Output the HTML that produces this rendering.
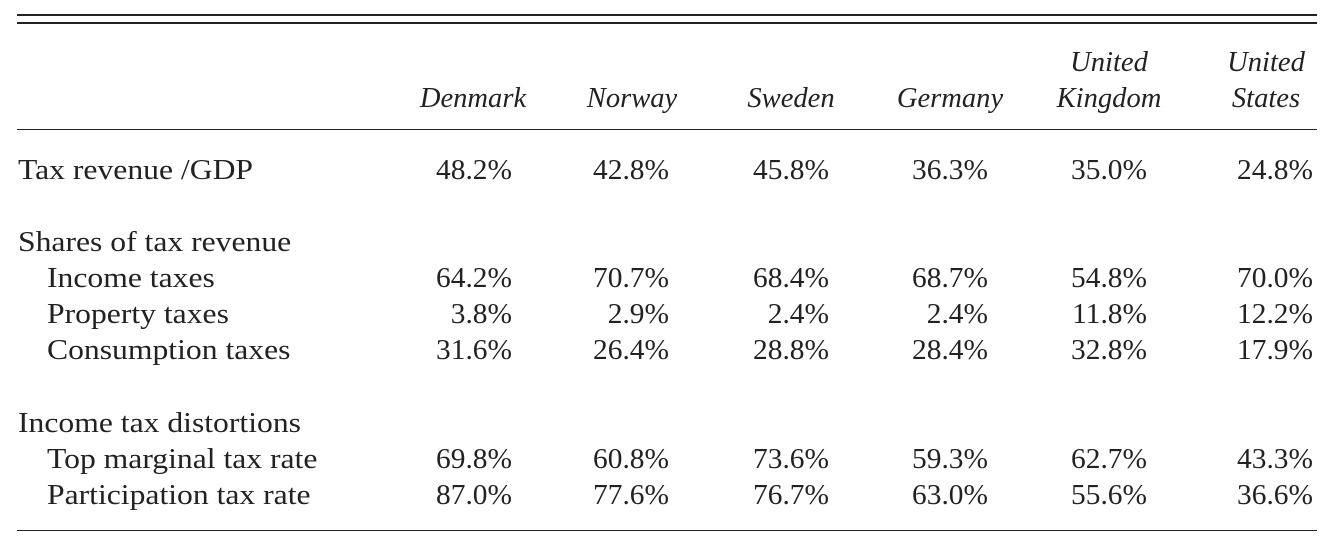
<!DOCTYPE html>
<html><head><meta charset="utf-8"><style>
body{margin:0;width:1334px;height:540px;background:#fff;position:relative;overflow:hidden;font-family:"Liberation Serif",serif;color:#222;font-size:28px}
.r{position:absolute;height:2px;background:#222;left:17px;width:1300px}
.t{position:absolute;line-height:30px;white-space:nowrap;transform:scaleX(1.13);transform-origin:left center}
.h{font-style:italic;text-align:center;width:160px;transform:scaleX(1.02);transform-origin:center center}
.v{text-align:right;width:150px;transform:scaleX(1.05);transform-origin:right center}
</style></head><body>
<div class="r" style="top:14px"></div>
<div class="r" style="top:22px"></div>
<div class="r" style="top:129px;height:1px"></div>
<div class="r" style="top:530px;height:1px"></div>
<div id="c"></div>
<script>
const countries=[["","Denmark"],["","Norway"],["","Sweden"],["","Germany"],["United","Kingdom"],["United","States"]];
const centers=[473,632,791,950,1109,1266];
const rights=[512,669,829,988,1147,1313];
const rows=[
["Tax revenue /GDP",0,169,["48.2%","42.8%","45.8%","36.3%","35.0%","24.8%"]],
["Shares of tax revenue",0,241,null],
["Income taxes",1,277,["64.2%","70.7%","68.4%","68.7%","54.8%","70.0%"]],
["Property taxes",1,313,["3.8%","2.9%","2.4%","2.4%","11.8%","12.2%"]],
["Consumption taxes",1,349,["31.6%","26.4%","28.8%","28.4%","32.8%","17.9%"]],
["Income tax distortions",0,422,null],
["Top marginal tax rate",1,458,["69.8%","60.8%","73.6%","59.3%","62.7%","43.3%"]],
["Participation tax rate",1,494,["87.0%","77.6%","76.7%","63.0%","55.6%","36.6%"]]
];
const c=document.getElementById('c');
function add(cls,txt,x,y){const d=document.createElement('div');d.className='t '+cls;d.textContent=txt;d.style.left=x+'px';d.style.top=(y-13)+'px';c.appendChild(d);return d;}
countries.forEach((n,i)=>{
 if(n[0]){const a=add('h',n[0],centers[i]-80,61);
 
 }
 const b=add('h',n[1],centers[i]-80,97);
 
 
});
rows.forEach(r=>{
 const l=add('',r[0],r[1]?47:18,r[2]);
 
 
 if(r[3])r[3].forEach((v,i)=>{const d=add('v',v,rights[i]-150,r[2]);
 
 });
});
</script>
</body></html>
